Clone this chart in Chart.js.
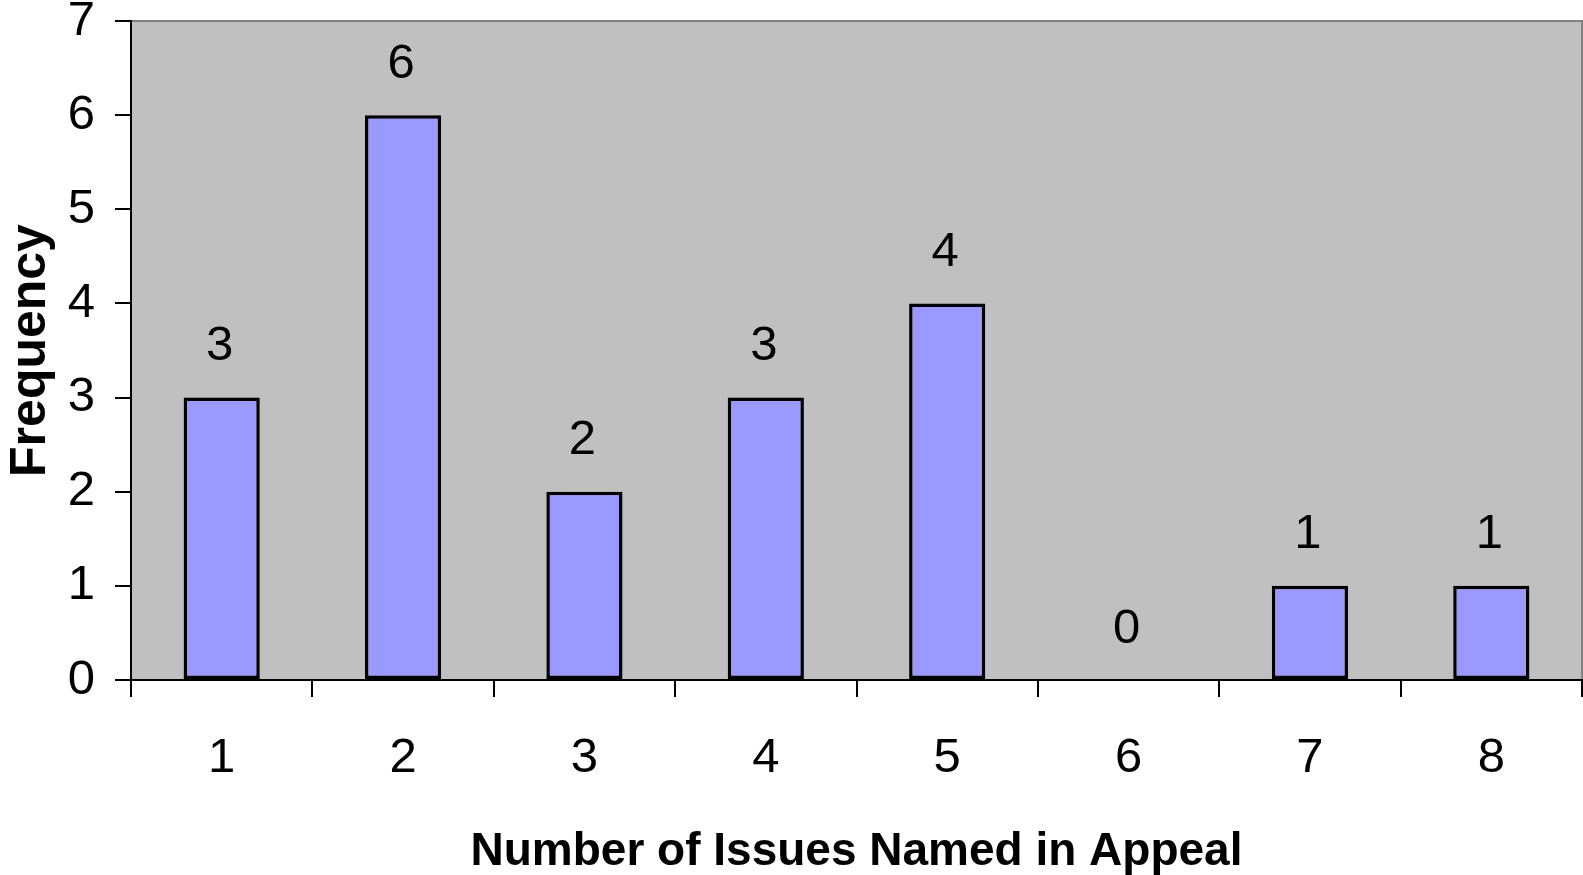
<!DOCTYPE html>
<html>
<head>
<meta charset="utf-8">
<script src="https://cdn.jsdelivr.net/npm/chart.js@4"></script>
<style>
  html, body { margin:0; padding:0; background:#fff; }
  #wrap { width:1583px; height:875px; }
</style>
</head>
<body>
<div id="wrap"><canvas id="c" width="1583" height="875"></canvas></div>
<script>
// data
const categories = ['1','2','3','4','5','6','7','8'];
const frequency  = [3, 6, 2, 3, 4, 0, 1, 1];
const yTicks     = [0, 1, 2, 3, 4, 5, 6, 7];

const FONT = '"Liberation Sans", Arial, sans-serif';

// gray plot area with darker top/right edge
const plotBg = {
  id:'plotBg',
  beforeDraw(chart){
    const {ctx, chartArea:a} = chart;
    ctx.save();
    ctx.fillStyle = '#c0c0c0';
    ctx.fillRect(a.left, a.top, a.right-a.left, a.bottom-a.top);
    ctx.strokeStyle = '#808080';
    ctx.lineWidth = 2;
    ctx.beginPath();
    ctx.moveTo(a.left, a.top); ctx.lineTo(a.right, a.top); ctx.lineTo(a.right, a.bottom);
    ctx.stroke();
    ctx.restore();
  }
};

// value labels above bars
const valueLabels = {
  id:'valueLabels',
  afterDatasetsDraw(chart){
    const {ctx} = chart;
    const meta = chart.getDatasetMeta(0);
    ctx.save();
    ctx.font = '49px ' + FONT;
    ctx.fillStyle = '#000';
    ctx.textAlign = 'center';
    ctx.textBaseline = 'middle';
    meta.data.forEach((bar, i) => {
      ctx.fillText(String(frequency[i]), bar.x - 2, bar.y - 51);
    });
    ctx.restore();
  }
};

new Chart(document.getElementById('c'), {
  type:'bar',
  data:{
    labels: categories,
    datasets:[{
      data: frequency,
      backgroundColor:'#9999ff',
      borderColor:'#000',
      borderWidth:3.5,
      borderSkipped:false,
      barPercentage:0.42,
      categoryPercentage:1
    }]
  },
  options:{
    responsive:false, animation:false,
    layout:{ padding:{ top:21, right:1, left:0, bottom:0 } },
    plugins:{ legend:{display:false}, tooltip:{enabled:false} },
    scales:{
      x:{
        grid:{ offset:true, drawOnChartArea:false, tickLength:17, color:'#000', lineWidth:2 },
        border:{ color:'#000', width:2 },
        ticks:{ color:'#000', padding:32, maxRotation:0, font:{ family:FONT, size:49 } },
        title:{ display:true, text:'Number of Issues Named in Appeal', color:'#000',
                padding:{top:0,bottom:0}, font:{ family:FONT, size:46, weight:'bold', lineHeight:1.0 } },
        afterFit(s){ s.height = 195; s.paddingLeft = 0; s.paddingRight = 0; }
      },
      y:{
        min:0, max:7,
        afterBuildTicks(s){ s.ticks = yTicks.map(v => ({value:v})); },
        grid:{ drawOnChartArea:false, tickLength:16, color:'#000', lineWidth:2 },
        border:{ color:'#000', width:2 },
        ticks:{ color:'#000', padding:20, font:{ family:FONT, size:49 } },
        title:{ display:true, text:'Frequency', color:'#000',
                padding:{top:1,bottom:4}, font:{ family:FONT, size:50, weight:'bold' } },
        afterFit(s){ s.width = 131; s.paddingTop = 0; s.paddingBottom = 0; }
      }
    }
  },
  plugins:[plotBg, valueLabels]
});
</script>
</body>
</html>
